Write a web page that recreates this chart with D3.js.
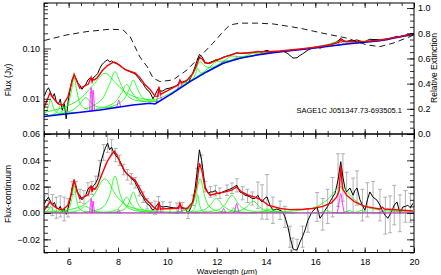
<!DOCTYPE html>
<html>
<head>
<meta charset="utf-8">
<script src="https://cdn.jsdelivr.net/npm/d3@7"></script>
<style>
body { margin: 0; background: #fff; }
svg { display: block; }
text { font-family: "Liberation Sans", Arial, sans-serif; fill: #000; }
</style>
</head>
<body>
<svg id="chart" width="441" height="275"></svg>
<script>
// wavelength grid of the residual spectrum (um), flux - continuum (Jy), 1-sigma error
var specWave = [5.02,5.10,5.18,5.26,5.34,5.42,5.50,5.58,5.66,5.74,5.82,5.90,5.98,6.06,6.14,6.22,6.30,6.38,6.46,6.54,
	6.62,6.70,6.78,6.86,6.94,7.02,7.10,7.18,7.26,7.34,7.42,7.50,7.58,7.66,7.74,7.82,7.90,7.98,8.06,8.14,
	8.22,8.30,8.38,8.46,8.54,8.62,8.70,8.78,8.86,8.94,9.02,9.10,9.18,9.26,9.34,9.42,9.50,9.58,9.64,9.72,
	9.82,9.95,10.11,10.25,10.39,10.51,10.62,10.72,10.84,10.95,11.04,11.12,11.20,11.30,11.39,11.46,11.53,11.65,11.75,11.85,
	11.95,12.05,12.13,12.25,12.42,12.52,12.62,12.72,12.82,12.94,13.05,13.15,13.25,13.35,13.45,13.55,13.67,13.76,13.84,13.94,
	14.04,14.16,14.28,14.42,14.57,14.67,14.77,14.89,14.97,15.04,15.09,15.17,15.26,15.38,15.48,15.58,15.70,15.86,16.07,16.19,
	16.30,16.39,16.50,16.59,16.70,16.80,16.92,17.03,17.12,17.20,17.27,17.40,17.53,17.60,17.69,17.81,17.91,18.01,18.11,18.21,
	18.34,18.50,18.62,18.74,18.84,18.94,19.03,19.11,19.20,19.31,19.43,19.55,19.65,19.75,19.85,19.96];
var specResid = [0.007,0.010,0.012,0.009,0.006,0.008,0.004,0.003,0.005,0.001,0.003,-0.001,0.004,0.010,0.019,0.024,0.020,0.015,0.013,0.010,
	0.012,0.014,0.018,0.020,0.019,0.021,0.023,0.026,0.034,0.041,0.046,0.050,0.053,0.048,0.050,0.046,0.044,0.042,0.040,0.037,
	0.033,0.031,0.029,0.028,0.026,0.025,0.023,0.020,0.017,0.014,0.012,0.009,0.007,0.006,0.004,0.002,0.004,0.006,0.0075,0.005,
	0.0045,0.005,0.0043,0.004,0.0036,0.0059,0.004,0.0036,-0.0002,0.004,0.0097,0.018,0.030,0.048,0.040,0.030,0.020,0.015,0.016,0.016,
	0.017,0.0145,0.015,0.016,0.0173,0.018,0.0188,0.020,0.021,0.016,0.015,0.0135,0.013,0.0122,0.011,0.011,0.0135,0.010,0.0084,0.011,
	0.0122,0.0059,0.0021,0.003,0.0021,0.001,-0.003,-0.0107,-0.018,-0.023,-0.027,-0.028,-0.028,-0.022,-0.018,-0.013,-0.0056,0.0008,0.0046,-0.004,
	-0.001,0.002,0.005,0.0084,0.012,0.015,0.025,0.039,0.027,0.019,0.016,0.019,0.0135,0.017,0.019,0.010,0.006,0.002,0.010,0.016,
	0.012,0.0097,0.006,0.0008,-0.002,-0.004,-0.001,0.002,0.006,0.0084,-0.0002,0.0046,0.005,0.0059,0.004,0.0074];
var specErr = [0.006,0.007,0.008,0.007,0.008,0.007,0.008,0.009,0.008,0.008,0.009,0.009,0.007,0.006,0.005,0.004,0.004,0.005,0.005,0.005,
	0.005,0.005,0.005,0.005,0.005,0.005,0.005,0.005,0.006,0.006,0.006,0.007,0.007,0.006,0.006,0.005,0.005,0.004,0.004,0.004,
	0.004,0.004,0.004,0.004,0.004,0.004,0.004,0.004,0.004,0.004,0.004,0.004,0.004,0.004,0.004,0.005,0.005,0.005,0.005,0.005,
	0.004,0.004,0.004,0.004,0.004,0.004,0.004,0.004,0.004,0.004,0.004,0.004,0.004,0.004,0.004,0.004,0.004,0.004,0.004,0.004,
	0.004,0.004,0.004,0.004,0.004,0.004,0.004,0.005,0.005,0.005,0.005,0.005,0.005,0.005,0.005,0.006,0.010,0.012,0.013,0.015,
	0.017,0.013,0.010,0.008,0.007,0.007,0.008,0.008,0.008,0.008,0.008,0.008,0.008,0.008,0.008,0.008,0.009,0.010,0.011,0.012,
	0.012,0.013,0.013,0.014,0.015,0.017,0.020,0.024,0.018,0.016,0.015,0.014,0.013,0.013,0.013,0.012,0.012,0.012,0.013,0.013,
	0.012,0.012,0.012,0.013,0.014,0.015,0.014,0.014,0.015,0.015,0.014,0.013,0.012,0.011,0.011,0.010];

// fitted model minus continuum
var modelWave = [5.00,5.04,5.24,5.42,5.60,5.77,5.97,6.10,6.22,6.33,6.45,6.60,6.80,6.91,6.95,6.99,7.05,7.15,7.36,7.56,
	7.76,7.85,7.96,8.10,8.30,8.50,8.69,8.89,9.10,9.30,9.50,9.62,9.66,9.72,10.20,10.45,10.51,10.58,10.80,11.04,
	11.18,11.30,11.40,11.53,11.73,12.00,12.34,12.61,12.81,13.01,13.28,13.55,13.82,14.09,14.57,14.97,15.50,15.90,16.30,16.65,
	16.86,16.97,17.03,17.10,17.27,17.60,18.00,18.60,18.71,18.80,19.96];
var modelResid = [0.002,0.003,0.0084,0.005,0.003,0.0026,0.0059,0.014,0.0255,0.017,0.011,0.012,0.014,0.021,0.016,0.019,0.018,0.020,0.030,0.039,
	0.045,0.047,0.044,0.0377,0.031,0.0275,0.025,0.0186,0.011,0.0072,0.0034,0.0026,0.0086,0.003,0.0034,0.0036,0.0075,0.0036,0.0034,0.0084,
	0.020,0.0377,0.0326,0.0186,0.0135,0.0148,0.016,0.0173,0.0198,0.016,0.0135,0.012,0.0097,0.0059,0.0034,0.0026,0.0028,0.0034,0.005,0.0076,
	0.012,0.017,0.036,0.0186,0.0135,0.0084,0.005,0.003,0.0045,0.003,0.0015];

// stellar + dust continuum (top panel, Jy)
var contWave = [4.97,7.27,8.61,9.30,9.50,10.23,10.92,11.61,12.26,12.95,13.64,14.28,14.97,15.90,17.28,18.62,20.0];
var contFlux = [0.00443,0.00601,0.00755,0.00816,0.00791,0.0131,0.0219,0.0346,0.0508,0.0638,0.0743,0.0826,0.0904,0.101,0.123,0.143,0.193];

// relative extinction curve (dashed)
var extWave = [5.0,5.93,6.74,7.68,8.20,8.49,8.89,9.18,9.42,9.70,10.23,10.80,11.32,11.85,12.26,12.54,12.94,13.63,14.28,14.97,
	15.38,16.31,17.28,18.09,18.62,19.15,19.84,20.0];
var extVal = [0.742,0.787,0.813,0.832,0.827,0.773,0.611,0.535,0.445,0.416,0.429,0.509,0.614,0.721,0.813,0.866,0.880,0.880,0.874,0.853,
	0.840,0.800,0.761,0.707,0.694,0.721,0.773,0.787];

// dust features (green), [wavelength, flux above continuum]
var pah527 = [[4.73,0.00014],[4.91,0.0003],[5.09,0.001],[5.18,0.0025],[5.27,0.005],[5.36,0.0025],[5.45,0.001],[5.63,0.0003],[5.81,0.00014]];
var pah570 = [[5.10,0.00008],[5.30,0.00018],[5.50,0.0006],[5.60,0.0015],[5.70,0.003],[5.80,0.0015],[5.90,0.0006],[6.10,0.00018],[6.30,0.00008]];
var pah622 = [[5.65,0.00057],[5.84,0.0012],[6.03,0.0042],[6.125,0.0105],[6.22,0.021],[6.315,0.0105],[6.41,0.0042],[6.60,0.0012],[6.79,0.00057]];
var pah669 = [[5.28,0.00014],[5.75,0.0003],[6.22,0.001],[6.455,0.0025],[6.69,0.005],[6.925,0.0025],[7.16,0.001],[7.63,0.0003],[8.10,0.00014]];
var pah747 = [[4.65,0.0007],[5.59,0.0015],[6.53,0.0052],[7.00,0.013],[7.47,0.026],[7.94,0.013],[8.41,0.0052],[9.35,0.0015],[10.29,0.0007]];
var pah788 = [[6.62,0.00076],[7.04,0.0017],[7.46,0.0056],[7.67,0.014],[7.88,0.028],[8.09,0.014],[8.30,0.0056],[8.72,0.0017],[9.14,0.00076]];
var pah835 = [[7.09,0.00032],[7.51,0.0007],[7.93,0.0024],[8.14,0.006],[8.35,0.012],[8.56,0.006],[8.77,0.0024],[9.19,0.0007],[9.61,0.00032]];
var pah862 = [[7.60,0.00043],[7.94,0.00094],[8.28,0.0032],[8.45,0.008],[8.62,0.016],[8.79,0.008],[8.96,0.0032],[9.30,0.00094],[9.64,0.00043]];
var pah1068 = [[10.05,0.00008],[10.26,0.00018],[10.47,0.0006],[10.575,0.0015],[10.68,0.003],[10.785,0.0015],[10.89,0.0006],[11.10,0.00018],[11.31,0.00008]];
var pah1123 = [[10.81,0.00038],[10.95,0.00083],[11.09,0.0028],[11.16,0.007],[11.23,0.014],[11.30,0.007],[11.37,0.0028],[11.51,0.00083],[11.65,0.00038]];
var pah1133 = [[10.25,0.0007],[10.61,0.0015],[10.97,0.0052],[11.15,0.013],[11.33,0.026],[11.51,0.013],[11.69,0.0052],[12.05,0.0015],[12.41,0.0007]];
var pah1199 = [[10.37,0.0003],[10.91,0.00065],[11.45,0.0022],[11.72,0.0055],[11.99,0.011],[12.26,0.0055],[12.53,0.0022],[13.07,0.00065],[13.61,0.0003]];
var pah1262 = [[11.03,0.00036],[11.56,0.0008],[12.09,0.0027],[12.355,0.0068],[12.62,0.0135],[12.885,0.0068],[13.15,0.0027],[13.68,0.0008],[14.21,0.00036]];
var pah1269 = [[12.21,0.0001],[12.37,0.00024],[12.53,0.0008],[12.61,0.002],[12.69,0.004],[12.77,0.002],[12.85,0.0008],[13.01,0.00024],[13.17,0.0001]];
var pah1348 = [[11.86,0.00024],[12.40,0.00053],[12.94,0.0018],[13.21,0.0045],[13.48,0.009],[13.75,0.0045],[14.02,0.0018],[14.56,0.00053],[15.10,0.00024]];
var pah1404 = [[13.35,0.00008],[13.58,0.00018],[13.81,0.0006],[13.925,0.0015],[14.04,0.003],[14.155,0.0015],[14.27,0.0006],[14.50,0.00018],[14.73,0.00008]];
var pah1419 = [[13.11,0.00008],[13.47,0.00018],[13.83,0.0006],[14.01,0.0015],[14.19,0.003],[14.37,0.0015],[14.55,0.0006],[14.91,0.00018],[15.27,0.00008]];
var pah1645 = [[15.76,0.00005],[15.99,0.00012],[16.22,0.0004],[16.335,0.001],[16.45,0.002],[16.565,0.001],[16.68,0.0004],[16.91,0.00012],[17.14,0.00005]];
var pah1704 = [[13.71,0.00054],[14.82,0.0012],[15.93,0.004],[16.485,0.010],[17.04,0.020],[17.595,0.010],[18.15,0.004],[19.26,0.0012],[20.37,0.00054]];
var pah1738 = [[16.745,0.00005],[16.955,0.00012],[17.165,0.0004],[17.27,0.001],[17.375,0.002],[17.48,0.001],[17.585,0.0004],[17.795,0.00012],[18.005,0.00005]];
var pah1787 = [[17.03,0.00005],[17.31,0.00012],[17.59,0.0004],[17.73,0.001],[17.87,0.002],[18.01,0.001],[18.15,0.0004],[18.43,0.00012],[18.71,0.00005]];
var dustFeatures = [pah527,pah570,pah622,pah669,pah747,pah788,pah835,pah862,pah1068,pah1123,pah1133,pah1199,
	pah1262,pah1269,pah1348,pah1404,pah1419,pah1645,pah1704,pah1738,pah1787];

// atomic and H2 lines (magenta)
var lineH2S5 = [[6.85,0],[6.88,0.0055],[6.91,0.011],[6.94,0.0055],[6.97,0]];
var lineArII = [[6.93,0],[6.96,0.0045],[6.99,0.009],[7.02,0.0045],[7.05,0]];
var lineH2S4 = [[7.95,0],[7.99,0.0013],[8.03,0.0026],[8.07,0.0013],[8.11,0]];
var lineH2S3 = [[9.56,0],[9.61,0.0038],[9.66,0.0076],[9.71,0.0038],[9.76,0]];
var lineSIV = [[10.41,0],[10.46,0.0028],[10.51,0.0055],[10.56,0.0028],[10.61,0]];
var lineH2S2 = [[12.18,0],[12.23,0.0018],[12.28,0.0035],[12.33,0.0018],[12.38,0]];
var lineNeII = [[12.71,0],[12.76,0.0036],[12.81,0.0072],[12.86,0.0036],[12.91,0]];
var lineH2S1 = [[16.89,0],[16.96,0.0074],[17.03,0.0148],[17.10,0.0074],[17.17,0]];
var lineSIII = [[18.57,0],[18.64,0.0008],[18.71,0.0015],[18.78,0.0008],[18.85,0]];
var gasLines = [lineH2S5,lineArII,lineH2S4,lineH2S3,lineSIV,lineH2S2,lineNeII,lineH2S1,lineSIII];

// ticks
var waveMajor = [6,8,10,12,14,16,18,20];
var waveMinor = d3.range(5, 20.01, 0.5);
var fluxMajor = [0.01, 0.1];
var fluxMajorLabels = ["0.01", "0.10"];
var fluxMinor = [0.002,0.003,0.004,0.005,0.006,0.007,0.008,0.009,0.02,0.03,0.04,0.05,0.06,0.07,0.08,0.09,0.2,0.3,0.4,0.5,0.6,0.7,0.8];
var extMajor = [0,0.2,0.4,0.6,0.8,1.0];
var extMinor = d3.range(0, 1.04, 0.05);
var residMajor = [-0.02,0,0.02,0.04,0.06];
var residMinor = d3.range(-0.03, 0.0601, 0.005);

var objectName = "SAGE1C J051347.73-693505.1";

var svg = d3.select("#chart");
var L = 44, R = 414, T1 = 3, B1 = 134, T2 = 134, B2 = 252.5;

var x = d3.scaleLinear().domain([5, 20]).range([L, R]);
var yTop = d3.scaleLog().domain([0.002, 0.8]).range([B1, T1]);
var yExt = d3.scaleLinear().domain([0, 1.04]).range([B1, T1]);
var yBot = d3.scaleLinear().domain([-0.03, 0.06]).range([B2, T2]);

// continuum as piecewise linear in log flux
var contLog = d3.scaleLinear().domain(contWave).range(contFlux.map(Math.log10)).clamp(true);
function contAt(w) { return Math.pow(10, contLog(w)); }

var defs = svg.append("defs");
defs.append("clipPath").attr("id", "clipTop").append("rect")
	.attr("x", L).attr("y", T1).attr("width", R - L).attr("height", B1 - T1);
defs.append("clipPath").attr("id", "clipBot").append("rect")
	.attr("x", L).attr("y", T2).attr("width", R - L).attr("height", B2 - T2);

var lineTop = d3.line().x(function(d) { return x(d[0]); }).y(function(d) { return yTop(d[1]); });
var smoothTop = d3.line().curve(d3.curveMonotoneX).x(function(d) { return x(d[0]); }).y(function(d) { return yTop(d[1]); });
var lineBot = d3.line().x(function(d) { return x(d[0]); }).y(function(d) { return yBot(d[1]); });
var smoothBot = d3.line().curve(d3.curveMonotoneX).x(function(d) { return x(d[0]); }).y(function(d) { return yBot(d[1]); });
var lineExt = d3.line().x(function(d) { return x(d[0]); }).y(function(d) { return yExt(d[1]); });

function onCont(pts) { return pts.map(function(p) { return [p[0], contAt(p[0]) + p[1]]; }); }

// ---------- top panel ----------
var gTop = svg.append("g").attr("clip-path", "url(#clipTop)");

var specTop = specWave.map(function(w, i) { return [w, contAt(w) + specResid[i]]; });
gTop.append("path").attr("d", lineTop(specTop))
	.attr("fill", "none").attr("stroke", "#000").attr("stroke-width", 1);

dustFeatures.forEach(function(f) {
	gTop.append("path").attr("d", smoothTop(onCont(f)))
		.attr("fill", "none").attr("stroke", "#00ff00").attr("stroke-width", 0.8);
});
gasLines.forEach(function(f) {
	gTop.append("path").attr("d", smoothTop(onCont(f)))
		.attr("fill", "none").attr("stroke", "#ff00ff").attr("stroke-width", 0.8);
});

gTop.append("path").attr("d", lineTop(contWave.map(function(w, i) { return [w, contFlux[i]]; })))
	.attr("fill", "none").attr("stroke", "#0000ff").attr("stroke-width", 1.6);

var modelTop = modelWave.map(function(w, i) { return [w, contAt(w) + modelResid[i]]; });
gTop.append("path").attr("d", lineTop(modelTop))
	.attr("fill", "none").attr("stroke", "#ff0000").attr("stroke-width", 1.4);

gTop.append("path").attr("d", lineExt(extWave.map(function(w, i) { return [w, extVal[i]]; })))
	.attr("fill", "none").attr("stroke", "#000").attr("stroke-width", 0.9)
	.attr("stroke-dasharray", "6,4");

svg.append("text").attr("x", 402).attr("y", 113).attr("text-anchor", "end")
	.attr("font-size", 7.5).text(objectName);

// ---------- bottom panel ----------
var gBot = svg.append("g").attr("clip-path", "url(#clipBot)");

// error bars on every other sample, as in the source figure
var bars = gBot.append("g").attr("stroke", "#a0a0a0").attr("stroke-width", 0.8);
specWave.forEach(function(w, i) {
	if (i % 2) return;
	var y0 = yBot(specResid[i] - specErr[i]), y1 = yBot(specResid[i] + specErr[i]), cx = x(w);
	bars.append("line").attr("x1", cx).attr("x2", cx).attr("y1", y0).attr("y2", y1);
	bars.append("line").attr("x1", cx - 2).attr("x2", cx + 2).attr("y1", y0).attr("y2", y0);
	bars.append("line").attr("x1", cx - 2).attr("x2", cx + 2).attr("y1", y1).attr("y2", y1);
});

gBot.append("path").attr("d", lineBot(specWave.map(function(w, i) { return [w, specResid[i]]; })))
	.attr("fill", "none").attr("stroke", "#000").attr("stroke-width", 1);

dustFeatures.forEach(function(f) {
	gBot.append("path").attr("d", smoothBot(f))
		.attr("fill", "none").attr("stroke", "#00ff00").attr("stroke-width", 0.8);
});
gBot.append("path").attr("d", lineBot([[5, 0.0002], [20, 0.0002]]))
	.attr("fill", "none").attr("stroke", "#00ff00").attr("stroke-width", 0.8);
gBot.append("path").attr("d", lineBot([[5, 0], [20, 0]]))
	.attr("fill", "none").attr("stroke", "#ff00ff").attr("stroke-width", 1);
gasLines.forEach(function(f) {
	gBot.append("path").attr("d", smoothBot(f))
		.attr("fill", "none").attr("stroke", "#ff00ff").attr("stroke-width", 0.8);
});

gBot.append("path").attr("d", lineBot(modelWave.map(function(w, i) { return [w, modelResid[i]]; })))
	.attr("fill", "none").attr("stroke", "#ff0000").attr("stroke-width", 1.4);

// ---------- axes ----------
function ticks(gen, tx, ty) {
	var g = svg.append("g").attr("transform", "translate(" + tx + "," + ty + ")").call(gen);
	g.select(".domain").remove();
	g.attr("font-family", null).attr("font-size", 9);
	g.selectAll("line").attr("stroke", "#000").attr("stroke-width", 0.8);
	return g;
}

// frames
svg.append("rect").attr("x", L).attr("y", T1).attr("width", R - L).attr("height", B1 - T1)
	.attr("fill", "none").attr("stroke", "#000").attr("stroke-width", 1);
svg.append("rect").attr("x", L).attr("y", T2).attr("width", R - L).attr("height", B2 - T2)
	.attr("fill", "none").attr("stroke", "#000").attr("stroke-width", 1);

// x ticks on all four horizontal edges
[[T1, 1], [B1, -1], [T2, 1], [B2, -1]].forEach(function(e) {
	var gen = e[1] > 0 ? d3.axisTop(x) : d3.axisBottom(x);
	ticks(gen.tickValues(waveMinor).tickSize(-3).tickFormat(""), 0, e[0]);
	ticks((e[1] > 0 ? d3.axisTop(x) : d3.axisBottom(x)).tickValues(waveMajor).tickSize(-5).tickFormat(""), 0, e[0]);
});
ticks(d3.axisBottom(x).tickValues(waveMajor).tickSize(0).tickPadding(6).tickFormat(d3.format("d")), 0, B2);

// top left: log flux
ticks(d3.axisLeft(yTop).tickValues(fluxMinor).tickSize(-4).tickFormat(""), L, 0);
ticks(d3.axisLeft(yTop).tickValues(fluxMajor).tickSize(-7).tickPadding(4)
	.tickFormat(function(d, i) { return fluxMajorLabels[i]; }), L, 0);

// top right: relative extinction
ticks(d3.axisRight(yExt).tickValues(extMinor).tickSize(-4).tickFormat(""), R, 0);
ticks(d3.axisRight(yExt).tickValues(extMajor).tickSize(-7).tickPadding(4).tickFormat(d3.format(".1f")), R, 0);

// bottom: residual flux
ticks(d3.axisLeft(yBot).tickValues(residMinor).tickSize(-4).tickFormat(""), L, 0);
ticks(d3.axisLeft(yBot).tickValues(residMajor).tickSize(-7).tickPadding(4).tickFormat(d3.format(".2f")), L, 0);
ticks(d3.axisRight(yBot).tickValues(residMinor).tickSize(-4).tickFormat(""), R, 0);
ticks(d3.axisRight(yBot).tickValues(residMajor).tickSize(-7).tickFormat(""), R, 0);

// axis titles
svg.append("text").attr("transform", "translate(11,80) rotate(-90)").attr("text-anchor", "middle")
	.attr("font-size", 8.5).text("Flux (Jy)");
svg.append("text").attr("transform", "translate(11,194) rotate(-90)").attr("text-anchor", "middle")
	.attr("font-size", 8.5).text("Flux-continuum");
svg.append("text").attr("transform", "translate(437,68) rotate(-90)").attr("text-anchor", "middle")
	.attr("font-size", 8.5).text("Relative Extinction");
var wl = svg.append("text").attr("x", 227).attr("y", 274).attr("text-anchor", "middle").attr("font-size", 8);
wl.append("tspan").text("Wavelength (");
wl.append("tspan").attr("font-style", "italic").text("\u03bc");
wl.append("tspan").text("m)");
</script>
</body>
</html>
